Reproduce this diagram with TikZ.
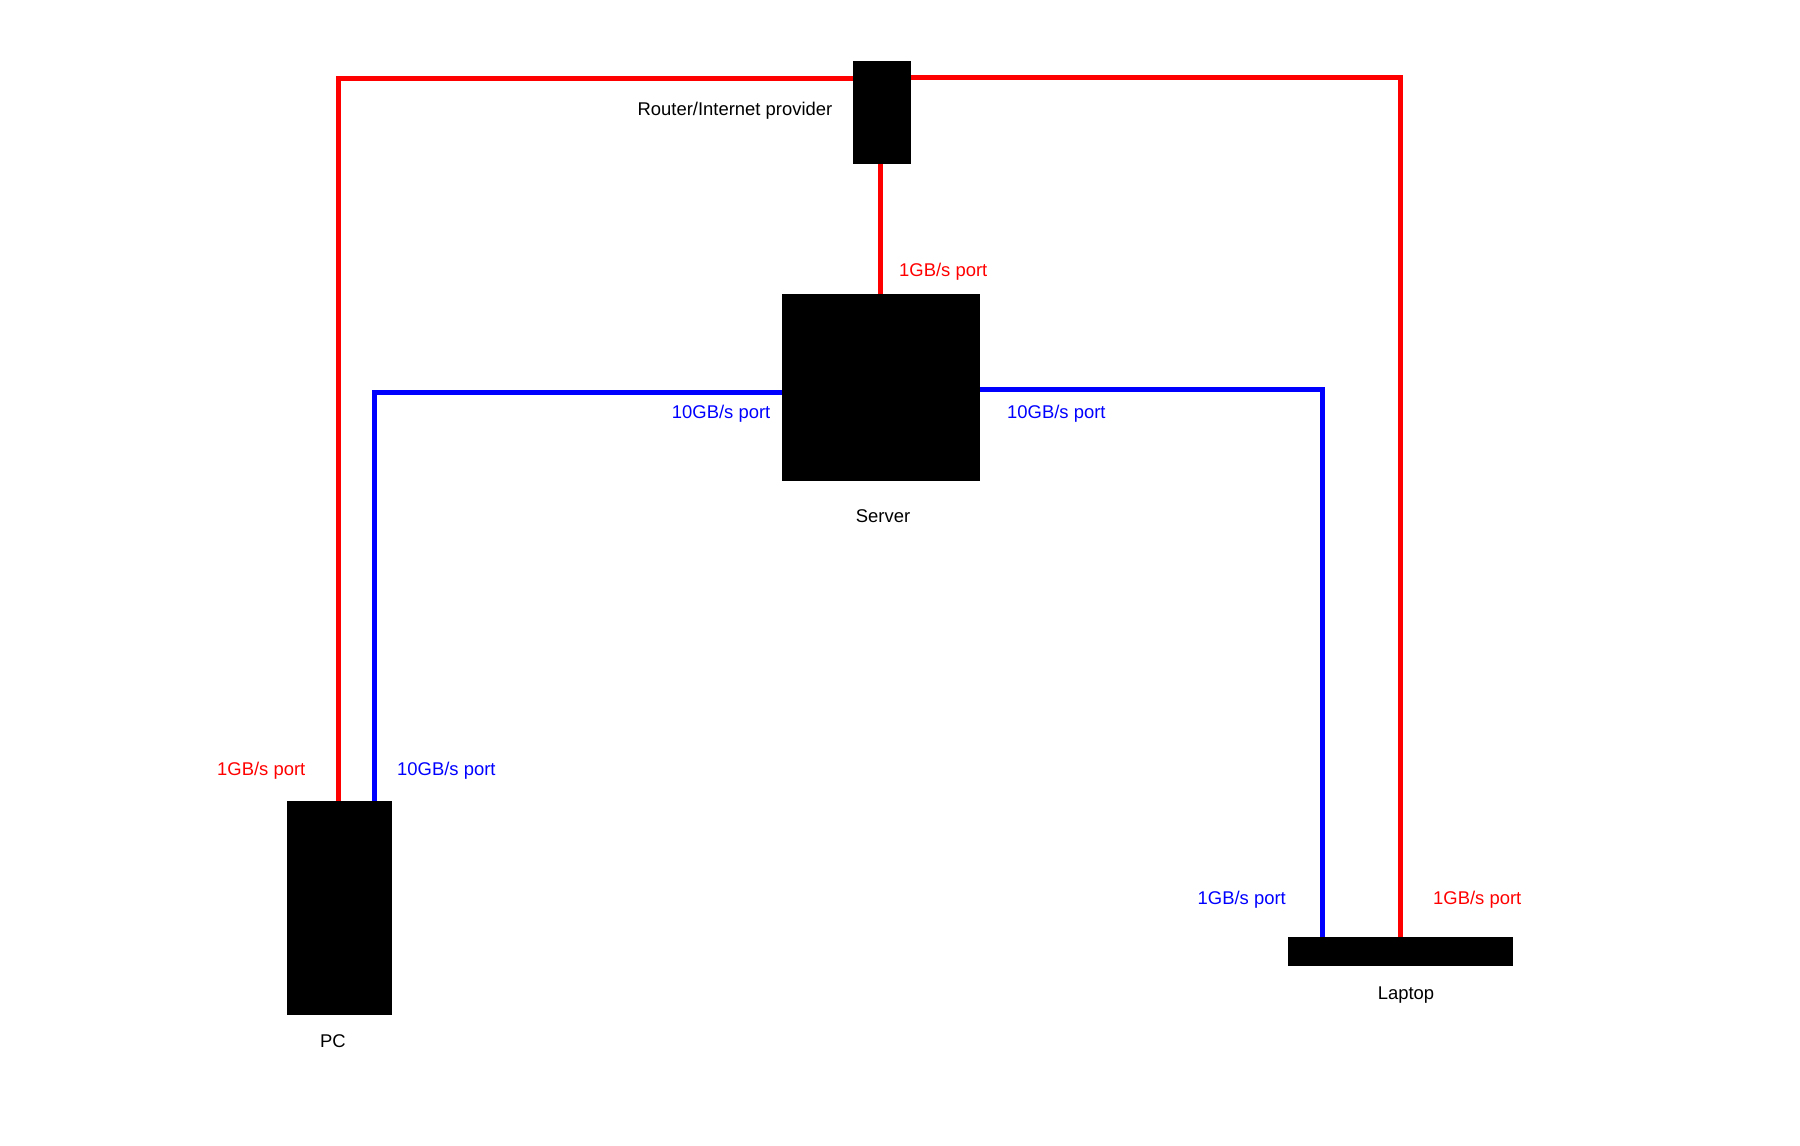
\documentclass[tikz,border=0pt]{standalone}
\usepackage{fontspec}
\setmainfont{Liberation Sans}
\definecolor{netred}{RGB}{255,0,0}
\definecolor{netblue}{RGB}{0,0,255}
\begin{document}
\begin{tikzpicture}[x=1bp,y=-1bp,
  device/.style={fill=black,draw=none,inner sep=0pt,outer sep=0pt},
  redwire/.style={draw=netred,line width=5bp},
  bluewire/.style={draw=netblue,line width=5bp},
  lbl/.style={inner sep=0pt,font=\fontsize{18.5}{22}\selectfont},
  redlbl/.style={lbl,text=netred},
  bluelbl/.style={lbl,text=netblue}]
\useasboundingbox (0,0) rectangle (1800,1145);
% devices
\node[device,minimum width=58bp,minimum height=103bp] (router) at (882,112.5) {};
\node[device,minimum width=198bp,minimum height=187bp] (server) at (881,387.5) {};
\node[device,minimum width=105bp,minimum height=214bp] (pc) at (339.5,908) {};
\node[device,minimum width=225bp,minimum height=29bp] (laptop) at (1400.5,951.5) {};
% corner coordinates
\coordinate (rl) at (338.5,78);
\coordinate (rr) at (1400,77);
\coordinate (bl) at (374,392);
\coordinate (br) at (1322,389);
% wires
\draw[redwire] (router.south -| 880.7,0) -- (server.north -| 880.7,0);
\draw[redwire] (router.west |- rl) -- (rl) -- (pc.north -| rl);
\draw[redwire] (router.east |- rr) -- (rr) -- (laptop.north -| rr);
\draw[bluewire] (server.west |- bl) -- (bl) -- (pc.north -| bl);
\draw[bluewire] (server.east |- br) -- (br) -- (laptop.north -| br);
% labels
\node[lbl] (lrouter) at (735,111) {Router/Internet provider};
\node[lbl] (lserver) at (883,516) {Server};
\node[lbl] (lpc) at (333,1041) {PC};
\node[lbl] (llaptop) at (1406,995.5) {Laptop};
\node[redlbl,anchor=west] (p1) at (899,272) {1GB/s port};
\node[bluelbl,anchor=east] (p2) at (770.5,414) {10GB/s port};
\node[bluelbl,anchor=west] (p3) at (1007,414) {10GB/s port};
\node[redlbl,anchor=east] (p4) at (305.5,771) {1GB/s port};
\node[bluelbl,anchor=west] (p5) at (397,771) {10GB/s port};
\node[bluelbl,anchor=east] (p6) at (1286,900) {1GB/s port};
\node[redlbl,anchor=west] (p7) at (1433,900) {1GB/s port};
\end{tikzpicture}
\end{document}
